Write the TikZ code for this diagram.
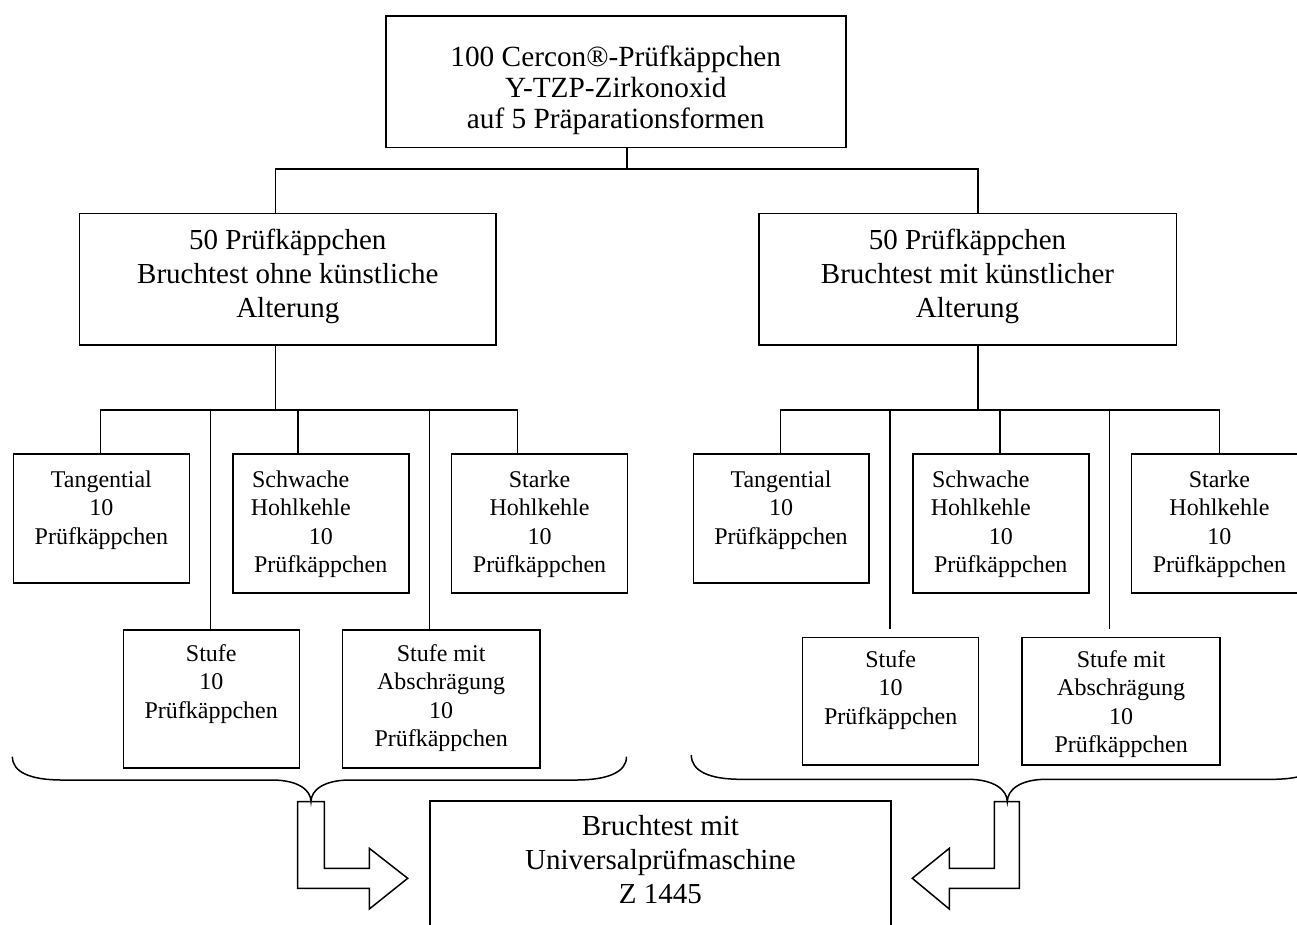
\documentclass[tikz,border=0pt]{standalone}
\usepackage{fontspec}
\setmainfont{Liberation Serif}
\usetikzlibrary{calc}
\newcommand{\boxtxt}[4]{\parbox[c][#2pt][t]{#1pt}{\centering\rule{0pt}{#3pt}#4\par}}
\tikzset{
  box/.style={draw, line width=1.5pt, inner sep=0pt, anchor=north west},
  big/.style={font=\fontsize{29}{34}\selectfont},
  small/.style={font=\fontsize{24}{28.3}\selectfont},
  conn/.style={line width=1.5pt},
  shape line/.style={line width=1.5pt, line join=miter}
}
\begin{document}
\begin{tikzpicture}[x=1pt,y=-1pt]
\useasboundingbox (0,0) rectangle (1297,924);
\clip (0,0) rectangle (1297,924);
\fill[white] (0,0) rectangle (1297,924);

% top box
\node[box,font=\fontsize{29.3}{31}\selectfont] (top) at (385,15)
  {\boxtxt{460}{131.7}{50.7}{100 Cercon®-Prüfkäppchen\\Y-TZP-Zirkonoxid\\auf 5 Präparationsformen}};

% middle boxes
\node[box,big] (midL) at (78.7,212.7)
  {\boxtxt{416.7}{131.6}{35.6}{50 Prüfkäppchen\\Bruchtest ohne künstliche\\Alterung}};
\node[box,big] (midR) at (758,212.7)
  {\boxtxt{417.5}{131.6}{35.6}{50 Prüfkäppchen\\Bruchtest mit künstlicher\\Alterung}};

% small boxes left
\node[box,small] (tanL) at (12.6,453.3) {\boxtxt{176}{129}{33.4}{Tangential\\10\\Prüfkäppchen}};
\node[box,small] (schL) at (232,453.3) {\boxtxt{176}{139}{33.4}{Schwache\kern40pt\\Hohlkehle\kern40pt\\10\\Prüfkäppchen}};
\node[box,small] (staL) at (450.8,453.3) {\boxtxt{176}{139}{33.4}{Starke\\Hohlkehle\\10\\Prüfkäppchen}};
\node[box,small] (stuL) at (122.5,629) {\boxtxt{176}{138.3}{31.7}{Stufe\\10\\Prüfkäppchen}};
\node[box,small] (absL) at (341.8,629) {\boxtxt{197.2}{138.3}{31.7}{Stufe mit\\Abschrägung\\10\\Prüfkäppchen}};

% small boxes right
\node[box,small] (tanR) at (692.5,453.3) {\boxtxt{175.5}{129}{33.4}{Tangential\\10\\Prüfkäppchen}};
\node[box,small] (schR) at (912,453.3) {\boxtxt{176}{139}{33.4}{Schwache\kern40pt\\Hohlkehle\kern40pt\\10\\Prüfkäppchen}};
\node[box,small] (staR) at (1130.7,453.3) {\boxtxt{176}{139}{33.4}{Starke\\Hohlkehle\\10\\Prüfkäppchen}};
\node[box,small] (stuR) at (801.9,636.7) {\boxtxt{176}{127.3}{30}{Stufe\\10\\Prüfkäppchen}};
\node[box,small] (absR) at (1021.4,636.7) {\boxtxt{198}{127.3}{30}{Stufe mit\\Abschrägung\\10\\Prüfkäppchen}};

% bottom box
\node[box,big] (bot) at (429.3,800) {\boxtxt{460.7}{140}{35}{Bruchtest mit\\Universalprüfmaschine\\Z 1445}};

% junction coordinates
\coordinate (j0) at (627,169);
\coordinate (jL) at (275.7,169);
\coordinate (jR) at (978,169);
\coordinate (kL) at (275.7,410);
\coordinate (kR) at (978,410);
\coordinate (a1) at (100.6,410);
\coordinate (a2) at (210.4,410);
\coordinate (a3) at (298,410);
\coordinate (a4) at (429.7,410);
\coordinate (a5) at (517.3,410);
\coordinate (b1) at (780.3,410);
\coordinate (b2) at (890,410);
\coordinate (b3) at (999.8,410);
\coordinate (b4) at (1109.6,410);
\coordinate (b5) at (1219.3,410);
\coordinate (e2) at (890,629);
\coordinate (e4) at (1109.6,629);

% connectors
\draw[conn] (top.south -| j0) -- (j0);
\draw[conn] (midL.north -| jL) -- (jL) -- (jR) -- (midR.north -| jR);
\draw[conn] (midL.south -| kL) -- (kL);
\draw[conn] (midR.south -| kR) -- (kR);
\draw[conn] (tanL.north -| a1) -- (a1) -- (a5) -- (staL.north -| a5);
\draw[conn] (a2) -- (stuL.north -| a2);
\draw[conn] (a3) -- (schL.north -| a3);
\draw[conn] (a4) -- (absL.north -| a4);
\draw[conn] (tanR.north -| b1) -- (b1) -- (b5) -- (staR.north -| b5);
\draw[conn] (b2) -- (e2);
\draw[conn] (b3) -- (schR.north -| b3);
\draw[conn] (b4) -- (e4);

% braces
\draw[shape line] (12.4,756.7) .. controls (12.4,772) and (30,780) .. (62,780)
  -- (272,780) .. controls (298,780) and (311,790) .. (311,801.7)
  .. controls (311,790) and (324,780) .. (350,780)
  -- (576,780) .. controls (608,780) and (626.5,772) .. (626.5,756.7);
\draw[shape line] (691.3,755) .. controls (691.3,771) and (709,779.3) .. (741,779.3)
  -- (968,779.3) .. controls (994,779.3) and (1007.3,790) .. (1007.3,801.7)
  .. controls (1007.3,790) and (1020,779.3) .. (1046,779.3)
  -- (1272,779.3) .. controls (1304,779.3) and (1322,771) .. (1322,755);

% bent arrows
\draw[shape line] (297.7,801.7) -- (324.3,801.7) -- (324.3,868.3) -- (369.3,868.3)
  -- (369.3,848.3) -- (407.7,878.3) -- (369.3,909) -- (369.3,888.3) -- (297.7,888.3) -- cycle;
\draw[shape line] (1019.3,801.7) -- (994.3,801.7) -- (994.3,868.3) -- (949.3,868.3)
  -- (949.3,848.3) -- (912.3,878.3) -- (949.3,909) -- (949.3,888.3) -- (1019.3,888.3) -- cycle;
\end{tikzpicture}
\end{document}
